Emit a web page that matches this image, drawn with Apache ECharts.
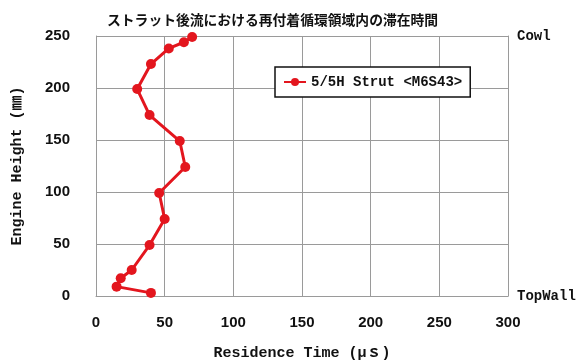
<!DOCTYPE html>
<html>
<head>
<meta charset="utf-8">
<script src="https://cdn.jsdelivr.net/npm/echarts@6/dist/echarts.min.js"></script>
<style>
  html, body { margin: 0; padding: 0; background: #fff; }
  #chart { width: 579px; height: 361px; }
</style>
</head>
<body>
<div id="chart"></div>
<script>
// Residence time (μs) against engine height (mm), strut wake
const seriesName = '5/5H Strut <M6S43>';
const residenceTime = [70, 64, 53, 40, 30, 39, 61, 65, 46, 50, 39, 26, 18, 15, 40];
const engineHeight  = [249, 244, 238, 223, 199, 174, 149, 124, 99, 74, 49, 25, 17, 9, 3];
const titleText = 'ストラット後流における再付着循環領域内の滞在時間';
const xName = 'Residence Time (μｓ)';
const yName = 'Engine Height (㎜)';
const topLabel = 'Cowl';
const bottomLabel = 'TopWall';

const points = residenceTime.map((t, i) => [t, engineHeight[i]]);
const gothic = '"Noto Sans CJK JP", sans-serif';
const mono = '"Liberation Mono", "DejaVu Sans Mono", "Noto Sans CJK JP", monospace';
const gridLine = { show: true, lineStyle: { color: '#9a9a9a', width: 1 } };

const chart = echarts.init(document.getElementById('chart'), null, { renderer: 'canvas' });
chart.setOption({
  animation: false,
  backgroundColor: '#fff',
  title: {
    text: titleText,
    left: 102, top: 8,
    textStyle: { fontFamily: gothic, fontSize: 13.8, fontWeight: 'bold', color: '#111' }
  },
  legend: {
    data: [seriesName],
    left: 275, top: 67,
    width: 188, height: 32,
    padding: [8, 8, 8, 8],
    borderColor: '#111', borderWidth: 1.5,
    backgroundColor: '#fff',
    itemWidth: 22, itemHeight: 10, itemGap: 4,
    textStyle: { fontFamily: mono, fontSize: 14, fontWeight: 'bold', color: '#111' }
  },
  grid: { left: 96, right: 71, top: 36, bottom: 65, containLabel: false, outerBoundsMode: 'none' },
  xAxis: {
    type: 'value', min: 0, max: 300, interval: 50,
    name: xName, nameLocation: 'middle', nameGap: 50,
    nameTextStyle: { fontFamily: mono, fontSize: 15, fontWeight: 'bold', color: '#111' },
    axisLine: { show: true, lineStyle: { color: '#9a9a9a' } },
    axisTick: { show: false },
    axisLabel: { margin: 19, fontFamily: '"Liberation Sans", sans-serif', fontSize: 15, fontWeight: 'bold', color: '#111' },
    splitLine: gridLine
  },
  yAxis: [{
    type: 'value', min: 0, max: 250, interval: 50,
    name: yName, nameLocation: 'middle', nameGap: 71, nameRotate: 90,
    nameTextStyle: { fontFamily: mono, fontSize: 15, fontWeight: 'bold', color: '#111' },
    axisLine: { show: true, lineStyle: { color: '#9a9a9a' } },
    axisTick: { show: false },
    axisLabel: { margin: 26, fontFamily: '"Liberation Sans", sans-serif', fontSize: 15, fontWeight: 'bold', color: '#111' },
    splitLine: gridLine
  }, {
    type: 'value', min: 0, max: 250, interval: 50, position: 'right',
    axisLine: { show: true, lineStyle: { color: '#9a9a9a' } },
    axisTick: { show: false },
    splitLine: { show: false },
    axisLabel: {
      margin: 9, fontFamily: mono, fontSize: 14, fontWeight: 'bold', color: '#111',
      formatter: v => v === 250 ? topLabel : (v === 0 ? bottomLabel : '')
    }
  }],
  series: [{
    name: seriesName,
    type: 'line',
    data: points,
    yAxisIndex: 0,
    color: '#e3161e',
    lineStyle: { width: 3, color: '#e3161e' },
    symbol: 'circle', symbolSize: 10,
    itemStyle: { color: '#e3161e' }
  }]
});
</script>
</body>
</html>
